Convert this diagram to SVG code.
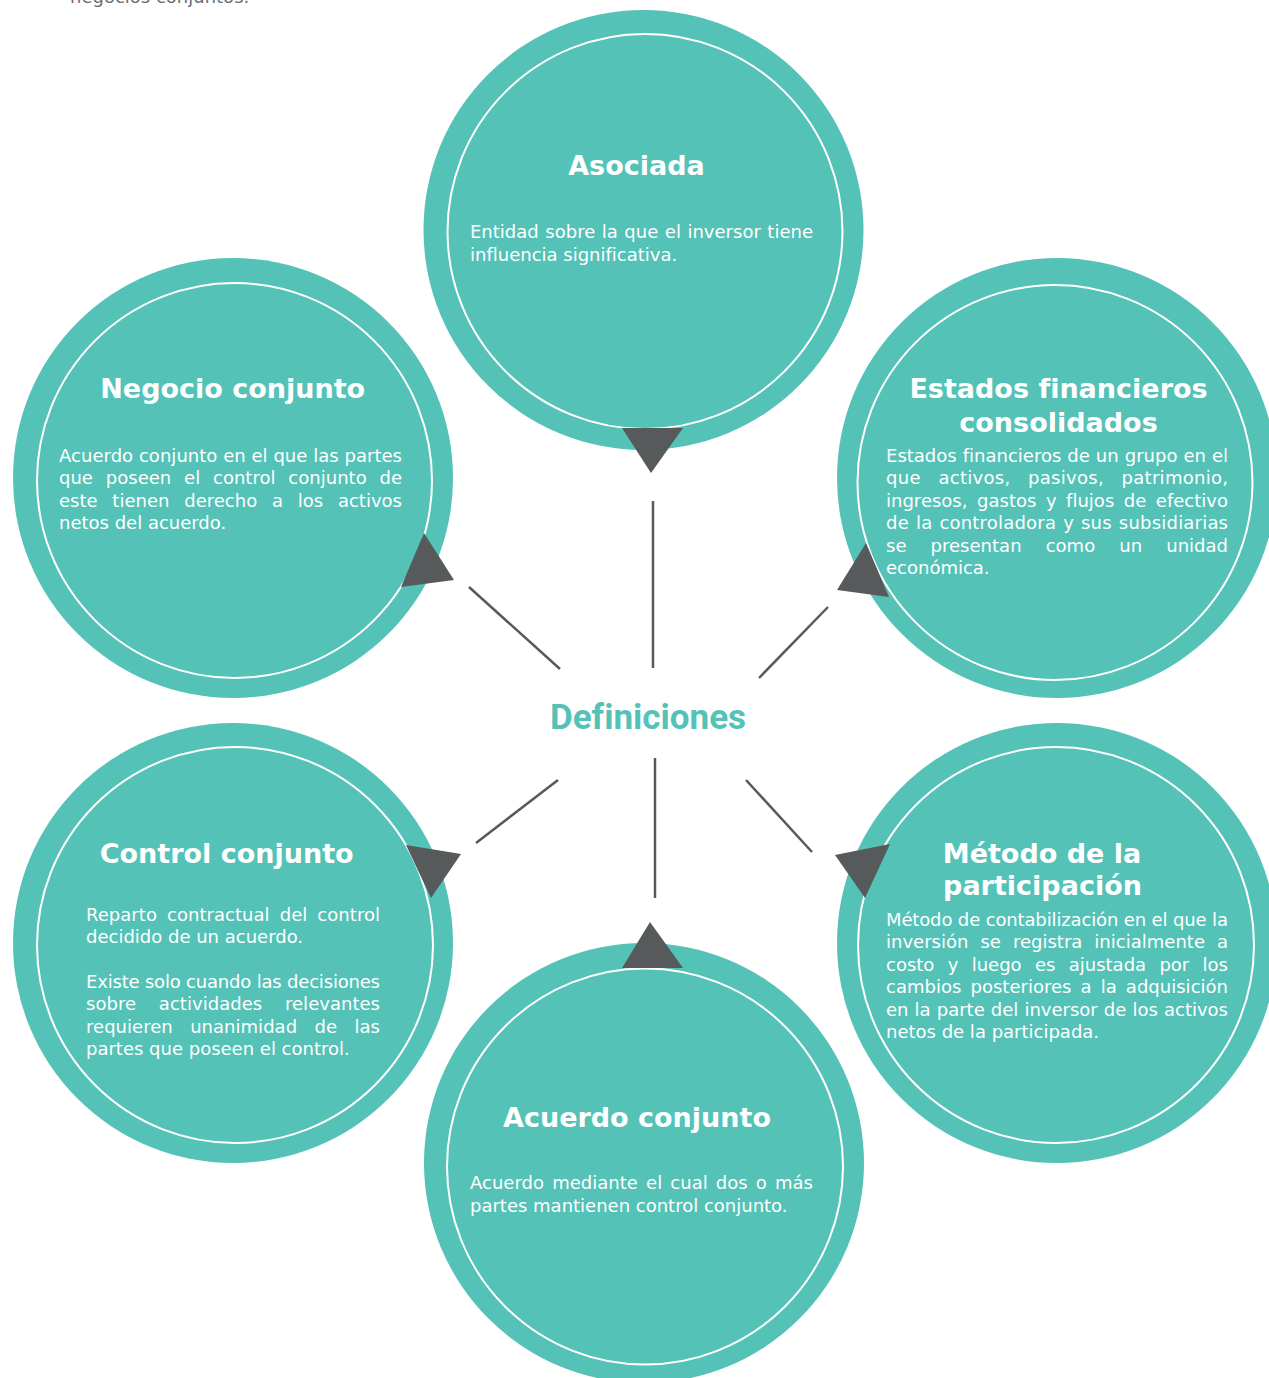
<svg xmlns="http://www.w3.org/2000/svg" width="1269" height="1378" viewBox="0 0 1269 1378">
  <style>
    .outer { fill: #54C2B7; }
    .inner { fill: #54C2B7; stroke: #FFFFFF; stroke-width: 2; }
    .title { font-family: "DejaVu Sans", Verdana, sans-serif; font-weight: bold; font-size: 27px; fill: #FFFFFF; text-anchor: middle; font-variant-ligatures: none; }
    .body { font-family: "DejaVu Sans", Verdana, sans-serif; font-size: 18px; fill: #FFFFFF; font-variant-ligatures: none; }
    .spoke { stroke: #58595B; stroke-width: 2.5; fill: none; }
    .head { fill: #565A5B; }
    .hub { font-family: Roboto, "Liberation Sans", sans-serif; font-weight: bold; font-size: 35px; fill: #54C2B7; text-anchor: middle; font-variant-ligatures: none; }
    .note { font-family: "DejaVu Sans", Verdana, sans-serif; font-size: 18px; fill: #6D6E70; }
  </style>

  <rect width="1269" height="1378" fill="#FFFFFF"/>

  <text class="note" x="70" y="3">negocios conjuntos.</text>

  <!-- Asociada -->
  <g id="asociada">
    <circle class="outer" cx="643.5" cy="230" r="220"/>
    <circle class="inner" cx="645" cy="231.5" r="197.5"/>
    <text class="title" x="636.5" y="175">Asociada</text>
    <text class="body" x="470" y="238" word-spacing="0.8" textLength="343" lengthAdjust="spacing">Entidad sobre la que el inversor tiene</text>
    <text class="body" x="470" y="260.5">influencia significativa.</text>
  </g>

  <!-- Negocio conjunto -->
  <g id="negocio-conjunto">
    <circle class="outer" cx="233" cy="478" r="220"/>
    <circle class="inner" cx="234.5" cy="480.5" r="197.5"/>
    <text class="title" x="232.7" y="398">Negocio conjunto</text>
    <text class="body" x="59" y="461.7" textLength="343" lengthAdjust="spacing">Acuerdo conjunto en el que las partes</text>
    <text class="body" x="59" y="484.2" word-spacing="7.1" textLength="343" lengthAdjust="spacing">que poseen el control conjunto de</text>
    <text class="body" x="59" y="506.7" word-spacing="9" textLength="343" lengthAdjust="spacing">este tienen derecho a los activos</text>
    <text class="body" x="59" y="529">netos del acuerdo.</text>
  </g>

  <!-- Estados financieros consolidados -->
  <g id="estados-financieros">
    <circle class="outer" cx="1057" cy="478" r="220"/>
    <circle class="inner" cx="1055" cy="482.5" r="197.5"/>
    <text class="title" x="1058.5" y="398">Estados financieros</text>
    <text class="title" x="1058.5" y="431.7">consolidados</text>
    <text class="body" x="886" y="461.7" word-spacing="0.25" textLength="342" lengthAdjust="spacing">Estados financieros de un grupo en el</text>
    <text class="body" x="886" y="484.2" word-spacing="11.7" textLength="342" lengthAdjust="spacing">que activos, pasivos, patrimonio,</text>
    <text class="body" x="886" y="506.7" word-spacing="3.8" textLength="342" lengthAdjust="spacing">ingresos, gastos y flujos de efectivo</text>
    <text class="body" x="886" y="529.2" word-spacing="1.1" textLength="342" lengthAdjust="spacing">de la controladora y sus subsidiarias</text>
    <text class="body" x="886" y="551.7" word-spacing="18.35" textLength="342" lengthAdjust="spacing">se presentan como un unidad</text>
    <text class="body" x="886" y="574.2">económica.</text>
  </g>

  <!-- Control conjunto -->
  <g id="control-conjunto">
    <circle class="outer" cx="233" cy="943" r="220"/>
    <circle class="inner" cx="235" cy="945" r="198"/>
    <text class="title" x="226.7" y="863">Control conjunto</text>
    <text class="body" x="86" y="921" word-spacing="4.3" textLength="294" lengthAdjust="spacing">Reparto contractual del control</text>
    <text class="body" x="86" y="943">decidido de un acuerdo.</text>
    <text class="body" x="86" y="987.7" textLength="294" lengthAdjust="spacing">Existe solo cuando las decisiones</text>
    <text class="body" x="86" y="1010.2" word-spacing="17" textLength="294" lengthAdjust="spacing">sobre actividades relevantes</text>
    <text class="body" x="86" y="1032.7" word-spacing="11.7" textLength="294" lengthAdjust="spacing">requieren unanimidad de las</text>
    <text class="body" x="86" y="1055">partes que poseen el control.</text>
  </g>

  <!-- Método de la participación -->
  <g id="metodo-participacion">
    <circle class="outer" cx="1057" cy="943" r="220"/>
    <circle class="inner" cx="1056" cy="945" r="198"/>
    <text class="title" x="1042" y="862.7">Método de la</text>
    <text class="title" x="1042.5" y="895">participación</text>
    <text class="body" x="886" y="925.7" textLength="342" lengthAdjust="spacing">Método de contabilización en el que la</text>
    <text class="body" x="886" y="948.2" word-spacing="6.25" textLength="342" lengthAdjust="spacing">inversión se registra inicialmente a</text>
    <text class="body" x="886" y="970.7" word-spacing="7.6" textLength="342" lengthAdjust="spacing">costo y luego es ajustada por los</text>
    <text class="body" x="886" y="993.2" word-spacing="3.4" textLength="342" lengthAdjust="spacing">cambios posteriores a la adquisición</text>
    <text class="body" x="886" y="1015.7" word-spacing="0.4" textLength="342" lengthAdjust="spacing">en la parte del inversor de los activos</text>
    <text class="body" x="886" y="1038.2">netos de la participada.</text>
  </g>

  <!-- Acuerdo conjunto -->
  <g id="acuerdo-conjunto">
    <circle class="outer" cx="644" cy="1163" r="220"/>
    <circle class="inner" cx="645" cy="1166.5" r="198"/>
    <text class="title" x="637" y="1126.7">Acuerdo conjunto</text>
    <text class="body" x="470" y="1189.3" word-spacing="2.4" textLength="343" lengthAdjust="spacing">Acuerdo mediante el cual dos o más</text>
    <text class="body" x="470" y="1211.8">partes mantienen control conjunto.</text>
  </g>

  <!-- Spokes from the hub with their arrowheads -->
  <g id="connectors">
    <line class="spoke" x1="653" y1="668" x2="653" y2="501"/>
    <line class="spoke" x1="560" y1="669" x2="469" y2="587"/>
    <line class="spoke" x1="759" y1="678" x2="828" y2="607"/>
    <line class="spoke" x1="558" y1="780" x2="476" y2="843"/>
    <line class="spoke" x1="655" y1="758" x2="655" y2="898"/>
    <line class="spoke" x1="746" y1="780" x2="812" y2="852"/>
    <polygon class="head" points="622,428 683,428 651,473"/>
    <polygon class="head" points="424,533 454,580 401,587"/>
    <polygon class="head" points="866,543 837,590 889,597"/>
    <polygon class="head" points="406,845 461,854 431,898"/>
    <polygon class="head" points="835,855 890,844 865,898"/>
    <polygon class="head" points="622,968 683,968 650,922"/>
  </g>

  <g id="hub">
    <text class="hub" x="648" y="729">Definiciones</text>
  </g>
</svg>
